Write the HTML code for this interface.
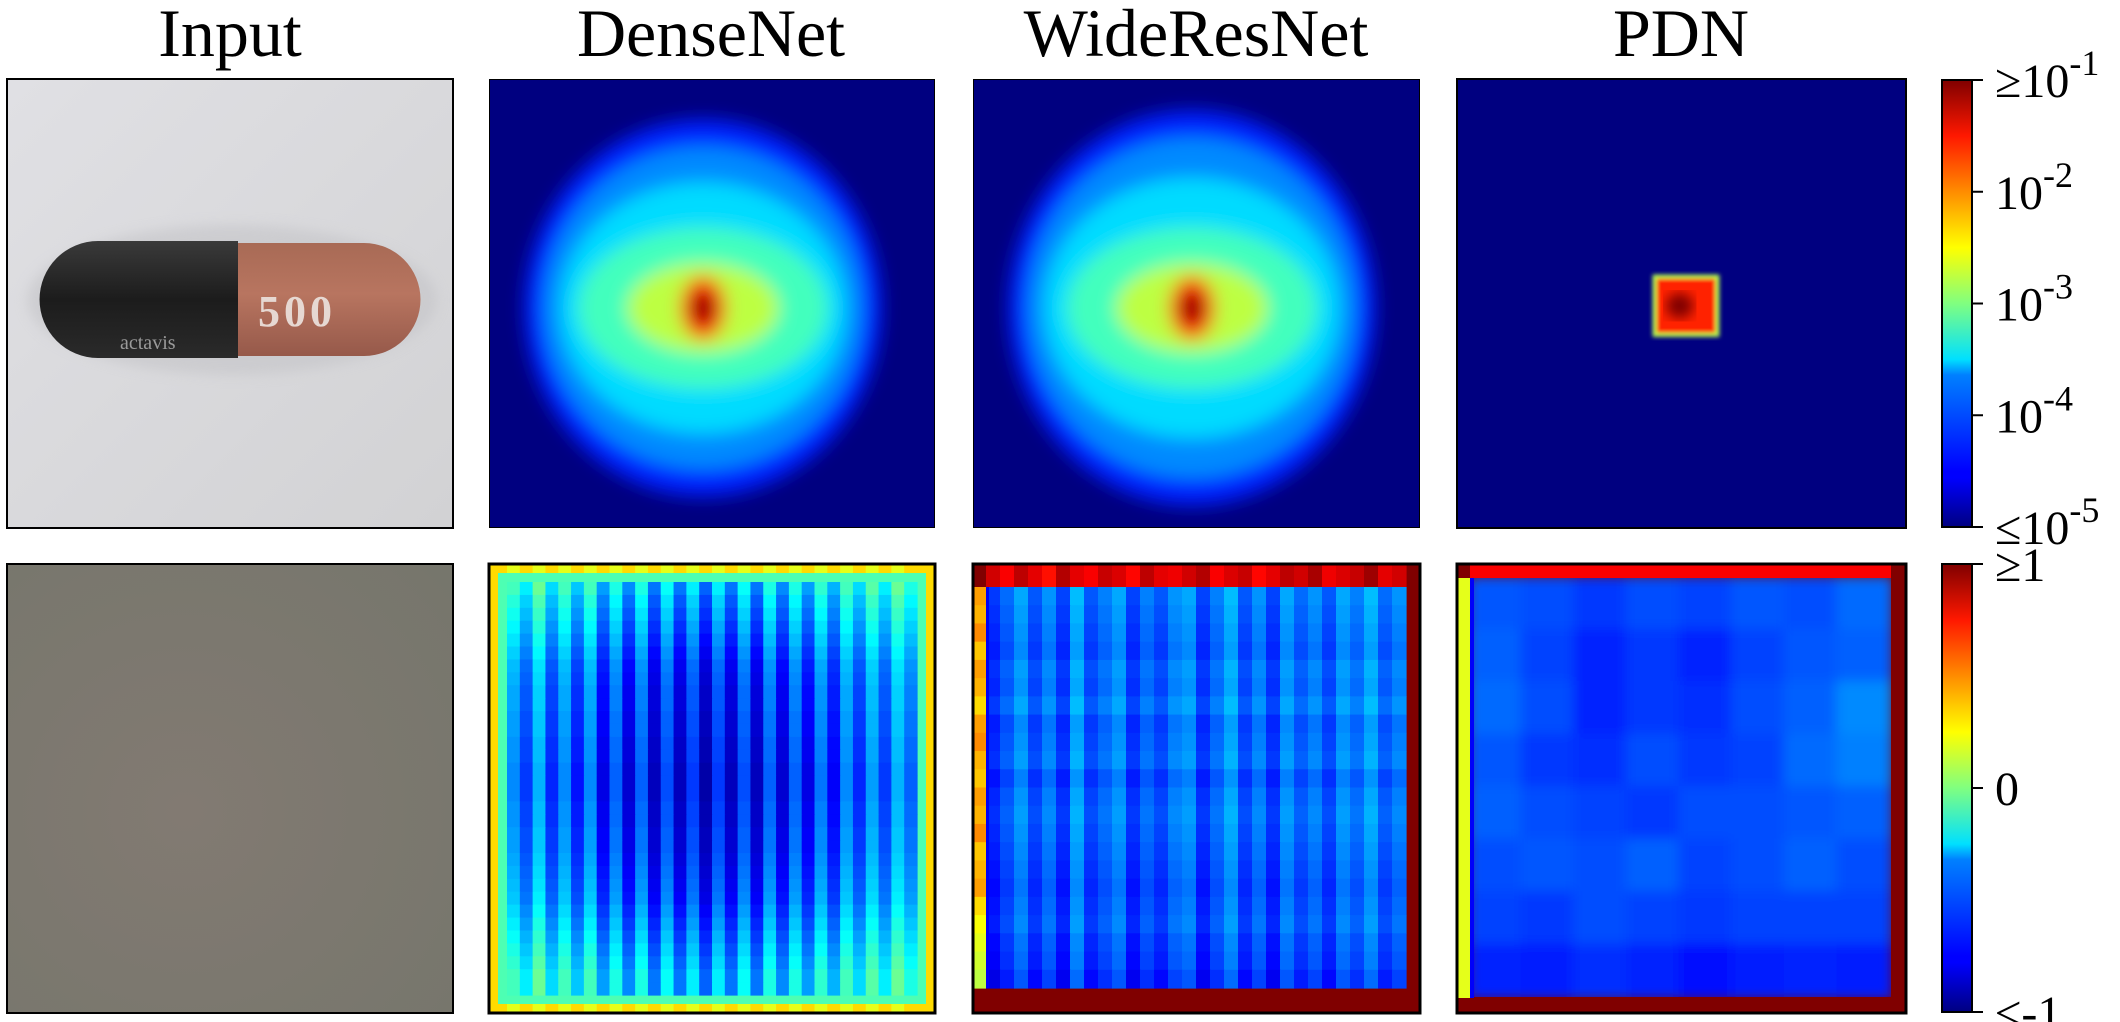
<!DOCTYPE html>
<html><head><meta charset="utf-8">
<style>
html,body{margin:0;padding:0;background:#fff;width:2120px;height:1022px;overflow:hidden}
svg{display:block}
text{font-family:"Liberation Serif","DejaVu Serif",serif;fill:#000}
</style></head>
<body>
<svg id="fig" width="2120" height="1022" viewBox="0 0 2120 1022" xmlns="http://www.w3.org/2000/svg">
<defs>
  <filter id="blurBig" x="-20%" y="-20%" width="140%" height="140%"><feGaussianBlur stdDeviation="9"/></filter>
  <filter id="blurSm"><feGaussianBlur stdDeviation="2"/></filter>
  <filter id="blurMd"><feGaussianBlur stdDeviation="6"/></filter>
  <linearGradient id="jetV" x1="0" y1="1" x2="0" y2="0">
    <stop offset="0" stop-color="#000080"/><stop offset="0.11" stop-color="#0000ff"/>
    <stop offset="0.125" stop-color="#0000ff"/><stop offset="0.34" stop-color="#0080ff"/>
    <stop offset="0.375" stop-color="#00e0ff"/><stop offset="0.5" stop-color="#80ff80"/>
    <stop offset="0.625" stop-color="#ffff00"/><stop offset="0.66" stop-color="#ffe000"/>
    <stop offset="0.875" stop-color="#ff1800"/><stop offset="1" stop-color="#800000"/>
  </linearGradient>
  <linearGradient id="capBlack" x1="0" y1="0" x2="0" y2="1">
    <stop offset="0" stop-color="#3a3a3a"/><stop offset="0.5" stop-color="#1c1c1c"/><stop offset="1" stop-color="#2a2a2a"/>
  </linearGradient>
  <linearGradient id="capRed" x1="0" y1="0" x2="0" y2="1">
    <stop offset="0" stop-color="#a86a55"/><stop offset="0.45" stop-color="#b87560"/><stop offset="1" stop-color="#96594a"/>
  </linearGradient>
  <linearGradient id="inBg" x1="0" y1="0" x2="1" y2="1">
    <stop offset="0" stop-color="#e0e0e4"/><stop offset="1" stop-color="#d2d2d4"/>
  </linearGradient>
  <radialGradient id="grayBg" cx="0.4" cy="0.55" r="0.8">
    <stop offset="0" stop-color="#827a72"/><stop offset="1" stop-color="#76766c"/>
  </radialGradient>
  <clipPath id="c1"><rect x="489" y="79" width="446" height="449"/></clipPath>
  <clipPath id="c2"><rect x="973" y="79" width="447" height="449"/></clipPath>
  <clipPath id="pdnIn"><rect x="1470" y="578" width="421" height="419"/></clipPath>
</defs>

<text x="230" y="56" font-size="68" text-anchor="middle">Input</text>
<text x="711" y="56" font-size="68" text-anchor="middle">DenseNet</text>
<text x="1196" y="56" font-size="68" text-anchor="middle">WideResNet</text>
<text x="1681" y="56" font-size="68" text-anchor="middle">PDN</text>

<g>
  <rect x="7" y="79" width="446" height="449" fill="url(#inBg)"/>
  <ellipse cx="232" cy="300" rx="205" ry="75" fill="#c4c4c8" filter="url(#blurMd)" opacity="0.6"/>
  <path d="M238 241 L98 241 A58 58 0 0 0 98 358 L238 358 Z" fill="url(#capBlack)"/>
  <path d="M238 243 L364 243 A56 56 0 0 1 364 356 L238 356 Z" fill="url(#capRed)"/>
  <text x="258" y="326" font-size="44" font-family="Liberation Sans, sans-serif" font-weight="bold" style="fill:#e6d8d2" letter-spacing="4">500</text>
  <text x="120" y="349" font-size="20" font-family="Liberation Sans, sans-serif" style="fill:#9a9a9a">actavis</text>
  <rect x="7" y="79" width="446" height="449" fill="none" stroke="#000" stroke-width="2"/>
</g>
<g>
  <rect x="7" y="564" width="446" height="449" fill="url(#grayBg)" stroke="#000" stroke-width="2"/>
</g>

<g id="topMaps"></g>
<g id="botMaps"></g>

<g>
  <rect x="1942" y="80" width="30" height="447" fill="url(#jetV)" stroke="#000" stroke-width="2"/>
  <g id="cb1ticks"></g>
</g>
<g>
  <rect x="1942" y="564" width="30" height="448" fill="url(#jetV)" stroke="#000" stroke-width="2"/>
  <g id="cb2ticks"></g>
</g>
</svg>

<script>
// ---------- data ----------
const denseLevels = [0.16, 0.26, 0.34, 0.44, 0.56, 0.85, 1.0];
const denseRx = [0.40, 0.36, 0.32, 0.28, 0.17, 0.05, 0.025];
const denseRy = [0.42, 0.36, 0.28, 0.18, 0.10, 0.07, 0.035];
const denseCenter = [0.48, 0.51];
const wrnLevels = [0.16, 0.26, 0.34, 0.44, 0.56, 0.85, 1.0];
const wrnRx = [0.41, 0.37, 0.33, 0.28, 0.17, 0.05, 0.025];
const wrnRy = [0.44, 0.38, 0.29, 0.18, 0.10, 0.07, 0.035];
const wrnCenter = [0.49, 0.51];
const pdnBox = [0.44, 0.44, 0.58, 0.57];
const pdnLevels = [0.55, 0.84, 1.0];

const denseCols = [0.34,0.26,0.38,0.24,0.34,0.22,0.34,0.18,0.30,0.16,0.30,0.14,0.28,0.14,0.26,0.12,0.26,0.14,0.28,0.14,0.30,0.16,0.30,0.18,0.32,0.20,0.34,0.24,0.36,0.26,0.38,0.30];
const denseRows = [0.10,0.07,0.05,0.03,0.01,-0.01,-0.03,-0.04,-0.05,-0.05,-0.06,-0.06,-0.07,-0.07,-0.08,-0.08,-0.08,-0.07,-0.07,-0.06,-0.06,-0.05,-0.04,-0.03,-0.02,0.00,0.02,0.04,0.06,0.08,0.10,0.10];
const denseEdge = [0.66, 0.45];
const wrnCols = [0.16,0.21,0.27,0.19,0.25,0.17,0.29,0.19,0.23,0.27,0.17,0.23,0.19,0.25,0.27,0.17,0.23,0.29,0.19,0.25,0.17,0.27,0.21,0.25,0.19,0.27,0.23,0.29,0.21,0.25];
const wrnRows = [0.02,0.01,0.0,-0.01,0.01,0.0,0.02,-0.01,0.0,0.01,-0.02,0.0,0.01,0.0,-0.01,-0.02,-0.03,-0.02,-0.01,-0.03,-0.04,-0.06];
const wrnTopStrip = [0.92,0.88,0.94,0.90,0.86,0.95,0.90,0.88,0.93,0.91,0.87,0.94,0.90,0.89,0.92,0.95,0.88,0.91,0.93,0.87,0.90,0.94,0.92,0.96,0.89,0.91,0.93,0.97,0.90,0.92];
const wrnLeftStrip = [0.72,0.70,0.74,0.68,0.72,0.70,0.66,0.72,0.74,0.70,0.68,0.72,0.70,0.74,0.68,0.70,0.72,0.66,0.62,0.60,0.58,0.56];
const pdnGrid = [
 [0.21,0.20,0.18,0.20,0.19,0.21,0.20,0.23],
 [0.22,0.19,0.16,0.18,0.16,0.19,0.21,0.22],
 [0.23,0.20,0.16,0.18,0.17,0.20,0.22,0.26],
 [0.21,0.18,0.17,0.20,0.18,0.19,0.23,0.25],
 [0.22,0.20,0.19,0.18,0.20,0.20,0.21,0.22],
 [0.20,0.21,0.20,0.22,0.19,0.20,0.22,0.20],
 [0.19,0.18,0.20,0.19,0.18,0.19,0.19,0.19],
 [0.16,0.15,0.17,0.16,0.14,0.15,0.16,0.15]];
const pdnLeftVal = 0.60, pdnTopVal = 0.88;

const cb1Exps = ["-1","-2","-3","-4","-5"];
const cb1Prefix = ["≥","","","","≤"];
const cb2Labels = ["≥1","0","≤-1"];
const cb2Values = [1, 0, -1];

// ---------- helpers ----------
const SVGNS = "http://www.w3.org/2000/svg";
function clip01(v){return Math.max(0,Math.min(1,v));}
function jet(t){
  t = clip01(t);
  const r = clip01(1.5-Math.abs(4*t-3)), g = clip01(1.5-Math.abs(4*t-2)), b = clip01(1.5-Math.abs(4*t-1));
  return `rgb(${Math.round(r*255)},${Math.round(g*255)},${Math.round(b*255)})`;
}
function mk(tag, attrs, parent){
  const e = document.createElementNS(SVGNS, tag);
  for (const k in attrs) e.setAttribute(k, attrs[k]);
  parent.appendChild(e); return e;
}
const panelsTop = [[489,79,446,449],[973,79,447,449],[1457,79,449,449]];
const panelsBot = [[489,564,446,449],[973,564,447,449],[1457,564,449,449]];
const topLayer = document.getElementById('topMaps');
const botLayer = document.getElementById('botMaps');

function blob(panel, levels, rx, ry, center, name, clipId){
  const [x,y,w,h] = panel;
  const g = mk('g', {'clip-path':`url(#${clipId})`}, topLayer);
  
  
  mk('rect', {x, y, width:w, height:h, fill:jet(0)}, g);
  const inner = mk('g', {filter:'url(#blurBig)'}, g);
  levels.forEach((lv,i)=>{
    const el = mk('ellipse', {cx:x+center[0]*w, cy:y+center[1]*h, rx:rx[i]*w, ry:ry[i]*h, fill:jet(lv)}, inner);
    
    
  });
  mk('rect', {x, y, width:w, height:h, fill:'none', stroke:'#000', 'stroke-width':2}, g);
}
blob(panelsTop[0], denseLevels, denseRx, denseRy, denseCenter, 'densenet-attribution-map', 'c1');
blob(panelsTop[1], wrnLevels, wrnRx, wrnRy, wrnCenter, 'wideresnet-attribution-map', 'c2');

(function(){
  const [x,y,w,h] = panelsTop[2];
  const g = mk('g', {}, topLayer);
  
  
  mk('rect', {x, y, width:w, height:h, fill:jet(0)}, g);
  const bx = x+pdnBox[0]*w, by = y+pdnBox[1]*h, bw = (pdnBox[2]-pdnBox[0])*w, bh = (pdnBox[3]-pdnBox[1])*h;
  const sq = mk('rect', {x:bx, y:by, width:bw, height:bh, fill:jet(pdnLevels[1]), stroke:jet(pdnLevels[0]), 'stroke-width':4, filter:'url(#blurSm)'}, g);
  
  
  mk('ellipse', {cx:bx+bw*0.4, cy:by+bh*0.5, rx:bw*0.22, ry:bh*0.22, fill:jet(pdnLevels[2]), filter:'url(#blurMd)'}, g);
  mk('rect', {x, y, width:w, height:h, fill:'none', stroke:'#000', 'stroke-width':2}, g);
})();

(function(){
  const [x,y,w,h] = panelsBot[0];
  const g = mk('g', {}, botLayer);
  
  
  const edge = 9, iw = w-4*edge, ih = h-4*edge, cw = iw/denseCols.length, ch = ih/denseRows.length;
  mk('rect', {x, y, width:w, height:h, fill:jet(denseEdge[0])}, g);
  for (let i=0;i<denseCols.length;i+=2){
    mk('rect', {x:x+2*edge+i*cw, y:y, width:cw, height:edge, fill:jet(denseEdge[0]-0.06)}, g);
    mk('rect', {x:x+2*edge+i*cw, y:y+h-edge, width:cw, height:edge, fill:jet(denseEdge[0]-0.06)}, g);
  }
  mk('rect', {x:x+edge, y:y+edge, width:w-2*edge, height:h-2*edge, fill:jet(denseEdge[1])}, g);
  denseRows.forEach((rv,j)=>denseCols.forEach((cv,i)=>{
    mk('rect', {x:x+2*edge+i*cw, y:y+2*edge+j*ch, width:cw+0.6, height:ch+0.6, fill:jet(cv+rv)}, g);
  }));
  mk('rect', {x, y, width:w, height:h, fill:'none', stroke:'#000', 'stroke-width':3}, g);
})();

(function(){
  const [x,y,w,h] = panelsBot[1];
  const g = mk('g', {}, botLayer);
  
  
  mk('rect', {x, y, width:w, height:h, fill:jet(1)}, g);
  const L = 13, T = 23, R = 14, B = 25;
  const iw = w-L-R, ih = h-T-B;
  const cw = iw/wrnCols.length, ch = ih/wrnRows.length;
  wrnRows.forEach((rv,j)=>wrnCols.forEach((cv,i)=>{
    mk('rect', {x:x+L+i*cw, y:y+T+j*ch, width:cw+0.6, height:ch+0.6, fill:jet(cv+rv)}, g);
  }));
  wrnTopStrip.forEach((v,i)=>{ mk('rect', {x:x+L+i*cw, y:y, width:cw+0.6, height:T, fill:jet(v)}, g); });
  wrnLeftStrip.forEach((v,j)=>{ mk('rect', {x:x, y:y+T+j*ch, width:L, height:ch+0.6, fill:jet(v)}, g); });
  mk('rect', {x:x+L, y:y+T, width:3, height:ih, fill:jet(0.12)}, g);
  mk('rect', {x, y, width:w, height:h, fill:'none', stroke:'#000', 'stroke-width':3}, g);
})();

(function(){
  const [x,y,w,h] = panelsBot[2];
  const g = mk('g', {}, botLayer);
  
  
  mk('rect', {x, y, width:w, height:h, fill:jet(1)}, g);
  const L = 13, T = 14, R = 15, B = 15;
  const iw = w-L-R, ih = h-T-B;
  const clipG = mk('g', {'clip-path':'url(#pdnIn)'}, g);
  const sub = mk('g', {filter:'url(#blurMd)'}, clipG);
  const n = pdnGrid.length, cw = iw/n, ch = ih/n;
  pdnGrid.forEach((row,j)=>row.forEach((v,i)=>{
    mk('rect', {x:x+L+i*cw-2, y:y+T+j*ch-2, width:cw+4, height:ch+4, fill:jet(v)}, sub);
  }));
  mk('rect', {x:x+L, y:y, width:iw, height:T, fill:jet(pdnTopVal)}, g);
  mk('rect', {x:x, y:y+T, width:L, height:ih, fill:jet(pdnLeftVal)}, g);
  mk('rect', {x:x+L, y:y+T, width:4, height:ih, fill:jet(0.12)}, g);
  mk('rect', {x, y, width:w, height:h, fill:'none', stroke:'#000', 'stroke-width':3}, g);
})();

(function(){
  const g = document.getElementById('cb1ticks');
  const y0 = 80, y1 = 527;
  cb1Exps.forEach((e,i)=>{
    const yy = y0 + i*(y1-y0)/(cb1Exps.length-1);
    mk('line', {x1:1972, x2:1983, y1:yy, y2:yy, stroke:'#000', 'stroke-width':2}, g);
    const t = mk('text', {x:1995, y:yy+17, 'font-size':48}, g);
    
    
    t.textContent = cb1Prefix[i] + '10';
    const s = document.createElementNS(SVGNS,'tspan');
    s.setAttribute('dy','-22'); s.setAttribute('font-size','36');
    s.textContent = e; t.appendChild(s);
  });
  const g2 = document.getElementById('cb2ticks');
  const b0 = 564, b1 = 1012;
  cb2Values.forEach((v,i)=>{
    const yy = b0 + (1-(v+1)/2)*(b1-b0);
    mk('line', {x1:1972, x2:1983, y1:yy, y2:yy, stroke:'#000', 'stroke-width':2}, g2);
    const t = mk('text', {x:1995, y:yy+17, 'font-size':48}, g2);
    
    
    t.textContent = cb2Labels[i];
  });
})();
</script>
</body></html>
